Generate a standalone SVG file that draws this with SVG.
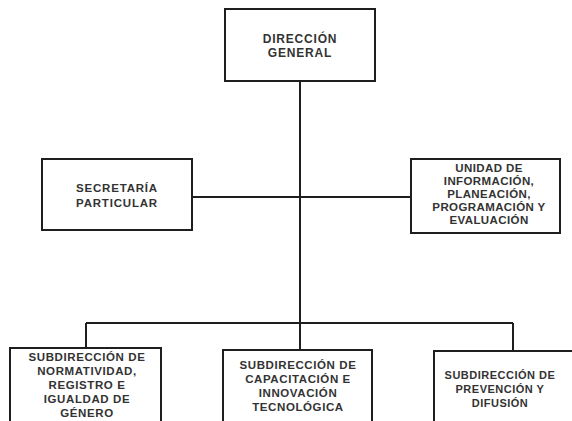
<svg xmlns="http://www.w3.org/2000/svg" width="572" height="421" viewBox="0 0 572 421">
<style>
.box{fill:#fff;stroke:#1e1e1e;stroke-width:2}
.ln{fill:none;stroke:#1e1e1e;stroke-width:2}
text{font-family:"Liberation Sans",Arial,sans-serif;font-weight:bold;font-size:11.5px;letter-spacing:0.6px;fill:#333;text-anchor:middle}
</style>
<rect width="572" height="421" fill="#fff"/>
<g id="connectors">
<path class="ln" d="M300 81 V350"/>
<path class="ln" d="M192 197 H411"/>
<path class="ln" d="M86 323 H513"/>
<path class="ln" d="M86 323 V348"/>
<path class="ln" d="M513 323 V351"/>
</g>
<g id="direccion-general">
<rect class="box" x="225" y="9" width="150" height="72"/>
<text x="300" y="43" style="font-size:12px;letter-spacing:0.8px">DIRECCIÓN</text>
<text x="300" y="57" style="font-size:12px;letter-spacing:0.8px">GENERAL</text>
</g>
<g id="secretaria-particular">
<rect class="box" x="42" y="159" width="150" height="71"/>
<text x="117" y="192" style="letter-spacing:0.8px">SECRETARÍA</text>
<text x="117" y="207" style="letter-spacing:0.8px">PARTICULAR</text>
</g>
<g id="unidad-informacion">
<rect class="box" x="411" y="159" width="149" height="74"/>
<text x="489" y="172" style="letter-spacing:0.4px">UNIDAD DE</text>
<text x="489" y="185" style="letter-spacing:0.4px">INFORMACIÓN,</text>
<text x="489" y="198" style="letter-spacing:0.4px">PLANEACIÓN,</text>
<text x="489" y="211" style="letter-spacing:0.4px">PROGRAMACIÓN Y</text>
<text x="489" y="224" style="letter-spacing:0.4px">EVALUACIÓN</text>
</g>
<g id="subdireccion-normatividad">
<rect class="box" x="10" y="348" width="151" height="80"/>
<text x="87" y="361">SUBDIRECCIÓN DE</text>
<text x="87" y="375">NORMATIVIDAD,</text>
<text x="87" y="389">REGISTRO E</text>
<text x="87" y="403">IGUALDAD DE</text>
<text x="87" y="417">GÉNERO</text>
</g>
<g id="subdireccion-capacitacion">
<rect class="box" x="223" y="350" width="149" height="80"/>
<text x="298" y="369">SUBDIRECCIÓN DE</text>
<text x="298" y="383">CAPACITACIÓN E</text>
<text x="298" y="397">INNOVACIÓN</text>
<text x="298" y="411">TECNOLÓGICA</text>
</g>
<g id="subdireccion-prevencion">
<rect class="box" x="434" y="351" width="145" height="80"/>
<text x="500" y="379" style="font-size:11px;letter-spacing:0.5px">SUBDIRECCIÓN DE</text>
<text x="500" y="393" style="font-size:11px;letter-spacing:0.5px">PREVENCIÓN Y</text>
<text x="500" y="407" style="font-size:11px;letter-spacing:0.5px">DIFUSIÓN</text>
</g>
</svg>
